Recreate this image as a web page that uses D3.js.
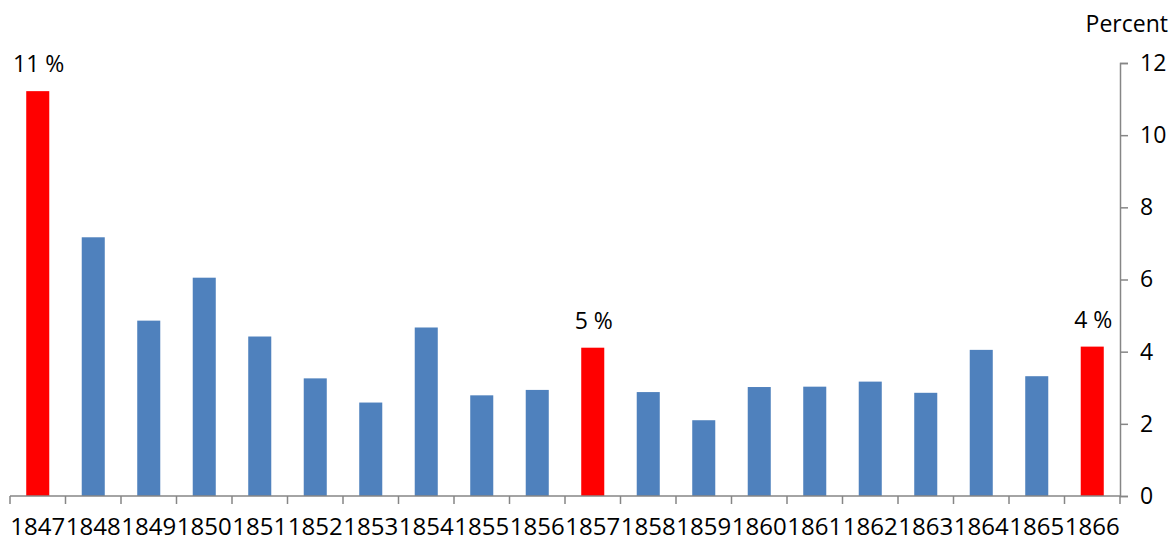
<!DOCTYPE html>
<html>
<head>
<meta charset="utf-8">
<script src="https://cdn.jsdelivr.net/npm/d3@7"></script>
<style>
  html, body { margin: 0; padding: 0; background: #fff; }
  svg { display: block; font-family: "Open Sans", Lato, sans-serif; }
</style>
</head>
<body>
<svg id="chart" width="1174" height="542"></svg>
<script>
const years = ["1847","1848","1849","1850","1851","1852","1853","1854","1855","1856",
               "1857","1858","1859","1860","1861","1862","1863","1864","1865","1866"];
const values = [11.22, 7.17, 4.86, 6.05, 4.42, 3.26, 2.59, 4.67, 2.79, 2.94,
                4.11, 2.88, 2.10, 3.02, 3.03, 3.17, 2.86, 4.05, 3.32, 4.14];
const highlightYears = ["1847", "1857", "1866"];
const highlightLabels = ["11 %", "5 %", "4 %"];
const yTicks = [0, 2, 4, 6, 8, 10, 12];
const yTitle = "Percent";

(function () {
const svg = d3.select("#chart");
const mLeft = 10, mRight = 1120, mTop = 63, mBottom = 496;
const axisColor = "#868686";
const font = "'Open Sans', Lato, sans-serif";

const x = d3.scaleBand().domain(years).range([mLeft, mRight]).paddingInner(0.585).paddingOuter(0.2925);
const xb = d3.scaleBand().domain(years).range([mLeft, mRight]);
const y = d3.scaleLinear().domain([0, 12]).range([mBottom, mTop]);

const data = years.map((yr, i) => ({ year: yr, value: values[i] }));

svg.append("g").selectAll("rect").data(data).join("rect")
  .attr("x", d => x(d.year))
  .attr("width", x.bandwidth())
  .attr("y", d => y(d.value))
  .attr("height", d => y(0) - y(d.value))
  .attr("fill", d => highlightYears.includes(d.year) ? "#FF0000" : "#4F81BD");

// value labels
svg.append("g").selectAll("text").data(highlightYears).join("text")
  .attr("x", d => x(d) + x.bandwidth() / 2 + 1)
  .attr("y", d => y(values[years.indexOf(d)]) - 19)
  .attr("text-anchor", "middle")
  .attr("font-size", 23)
  .attr("fill", "#000")
  .text((d, i) => highlightLabels[i]);

// x axis
const xAxis = svg.append("g").attr("transform", `translate(0,${mBottom})`);
xAxis.append("line").attr("x1", mLeft).attr("x2", mRight).attr("y1", 0).attr("y2", 0)
  .attr("stroke", axisColor).attr("stroke-width", 1.5);
const boundaries = years.map(yr => xb(yr)).concat([mRight]);
xAxis.selectAll("line.tick").data(boundaries).join("line").attr("class", "tick")
  .attr("x1", d => d).attr("x2", d => d).attr("y1", 0).attr("y2", 8)
  .attr("stroke", axisColor).attr("stroke-width", 1.5);
xAxis.selectAll("text").data(years).join("text")
  .attr("x", d => xb(d) + xb.bandwidth() / 2)
  .attr("y", 39)
  .attr("text-anchor", "middle")
  .attr("font-size", 24)
  .attr("fill", "#000")
  .text(d => d);

// y axis on right
const yAxis = svg.append("g").attr("transform", `translate(${mRight},0)`)
  .call(d3.axisRight(y).tickValues(yTicks).tickSize(8).tickPadding(12).tickFormat(d3.format("d")));
yAxis.select(".domain").attr("stroke", axisColor).attr("stroke-width", 1.5);
yAxis.selectAll(".tick line").attr("stroke", axisColor).attr("stroke-width", 1.5);
yAxis.selectAll(".tick text").attr("font-size", 23).attr("fill", "#000")
  .attr("font-family", font);

svg.append("text")
  .attr("x", 1168).attr("y", 32)
  .attr("text-anchor", "end")
  .attr("font-size", 23)
  .attr("fill", "#000")
  .text(yTitle);
})();
</script>
</body>
</html>
